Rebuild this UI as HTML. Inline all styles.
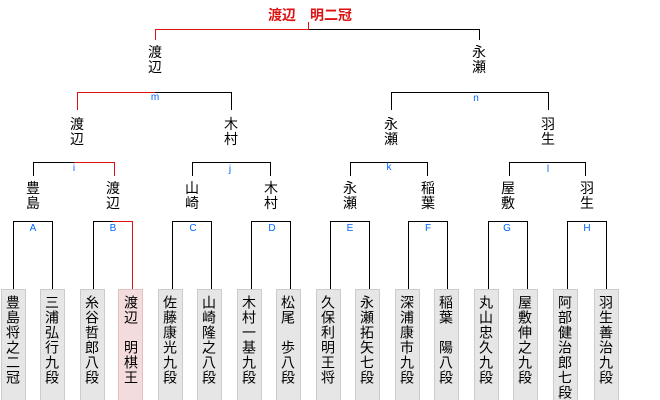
<!DOCTYPE html>
<html><head><meta charset="utf-8"><style>
html,body{margin:0;width:660px;height:400px;overflow:hidden;background:#fff}
body{position:relative;font-family:"Liberation Sans","Noto Sans CJK JP",sans-serif}
.b{position:absolute;top:289px;width:25px;height:111px;background:#e6e6e6;border:1px solid #ccc;border-bottom:none;box-sizing:border-box}
.b.r{background:#f4dcdc;border-color:#e3c0c0}
.t{position:absolute;top:295px;width:26px;height:105px;white-space:nowrap;writing-mode:vertical-rl;font-size:14px;line-height:26px;letter-spacing:1px;color:#000;text-align:left;overflow:visible}
.n{position:absolute;width:30px;text-align:center;font-size:14px;line-height:15px;color:#000}
.l{position:absolute;font-size:10px;color:#0066ff;width:20px;text-align:center}
svg{position:absolute;left:0;top:0}
</style></head><body>
<svg width="660" height="400">
<g stroke="#000" stroke-width="1" fill="none" shape-rendering="crispEdges">
<path d="M13.5 289V221.5H52.5V289"/>
<path d="M93.5 289V221.5H113"/>
<path d="M172.5 289V221.5H211.5V289"/>
<path d="M251.5 289V221.5H290.5V289"/>
<path d="M330.5 289V221.5H369.5V289"/>
<path d="M408.5 289V221.5H447.5V289"/>
<path d="M488.5 289V221.5H527.5V289"/>
<path d="M567.5 289V221.5H606.5V289"/>
<path d="M33.5 176V162.5H74"/>
<path d="M192.5 176V162.5H270.5V176"/>
<path d="M350.5 176V162.5H427.5V176"/>
<path d="M509.5 176V162.5H585.5V176"/>
<path d="M155 92.5H231.5V110"/>
<path d="M391.5 110V92.5H548.5V110"/>
<path d="M308 29.5H479.5V40"/>
</g>
<g stroke="#dd1111" stroke-width="1" fill="none" shape-rendering="crispEdges">
<path d="M113 221.5H132.5V289"/>
<path d="M74 162.5H114.5V176"/>
<path d="M77.5 110V92.5H155"/>
<path d="M155.5 40V29.5H308.5V22"/>
</g>
</svg>
<div style="position:absolute;left:250px;top:7px;width:120px;text-align:center;color:#dd1111;font-weight:bold;font-size:14px;line-height:16px">渡辺　明二冠</div>
<div class="n" style="left:140px;top:45px">渡<br>辺</div>
<div class="n" style="left:464px;top:45px">永<br>瀬</div>
<div class="n" style="left:62px;top:117px">渡<br>辺</div>
<div class="n" style="left:216px;top:117px">木<br>村</div>
<div class="n" style="left:376px;top:117px">永<br>瀬</div>
<div class="n" style="left:533px;top:117px">羽<br>生</div>
<div class="n" style="left:18px;top:181px">豊<br>島</div>
<div class="n" style="left:98px;top:181px">渡<br>辺</div>
<div class="n" style="left:177px;top:181px">山<br>崎</div>
<div class="n" style="left:256px;top:181px">木<br>村</div>
<div class="n" style="left:335px;top:181px">永<br>瀬</div>
<div class="n" style="left:413px;top:181px">稲<br>葉</div>
<div class="n" style="left:493px;top:181px">屋<br>敷</div>
<div class="n" style="left:572px;top:181px">羽<br>生</div>
<div class="l" style="left:145px;top:92px">m</div>
<div class="l" style="left:466px;top:93px">n</div>
<div class="l" style="left:64px;top:163px">i</div>
<div class="l" style="left:220px;top:164px">j</div>
<div class="l" style="left:379px;top:162px">k</div>
<div class="l" style="left:538px;top:164px">l</div>
<div class="l" style="left:23px;top:223px">A</div>
<div class="l" style="left:103px;top:223px">B</div>
<div class="l" style="left:183px;top:223px">C</div>
<div class="l" style="left:262px;top:223px">D</div>
<div class="l" style="left:340px;top:223px">E</div>
<div class="l" style="left:418px;top:223px">F</div>
<div class="l" style="left:497px;top:223px">G</div>
<div class="l" style="left:577px;top:223px">H</div>

<div class="b" style="left:1px"></div><div class="t" style="left:0px">豊島将之二冠</div>
<div class="b" style="left:40px"></div><div class="t" style="left:39px">三浦弘行九段</div>
<div class="b" style="left:80px"></div><div class="t" style="left:79px">糸谷哲郎八段</div>
<div class="b r" style="left:118px"></div><div class="t" style="left:118px">渡辺　明棋王</div>
<div class="b" style="left:158px"></div><div class="t" style="left:157px">佐藤康光九段</div>
<div class="b" style="left:197px"></div><div class="t" style="left:196px">山崎隆之八段</div>
<div class="b" style="left:237px"></div><div class="t" style="left:236px">木村一基九段</div>
<div class="b" style="left:276px"></div><div class="t" style="left:275px">松尾　歩八段</div>
<div class="b" style="left:316px"></div><div class="t" style="left:315px">久保利明王将</div>
<div class="b" style="left:355px"></div><div class="t" style="left:354px">永瀬拓矢七段</div>
<div class="b" style="left:395px"></div><div class="t" style="left:394px">深浦康市九段</div>
<div class="b" style="left:434px"></div><div class="t" style="left:433px">稲葉　陽八段</div>
<div class="b" style="left:474px"></div><div class="t" style="left:473px">丸山忠久九段</div>
<div class="b" style="left:513px"></div><div class="t" style="left:512px">屋敷伸之九段</div>
<div class="b" style="left:553px"></div><div class="t" style="left:552px">阿部健治郎七段</div>
<div class="b" style="left:594px"></div><div class="t" style="left:593px">羽生善治九段</div>
</body></html>
